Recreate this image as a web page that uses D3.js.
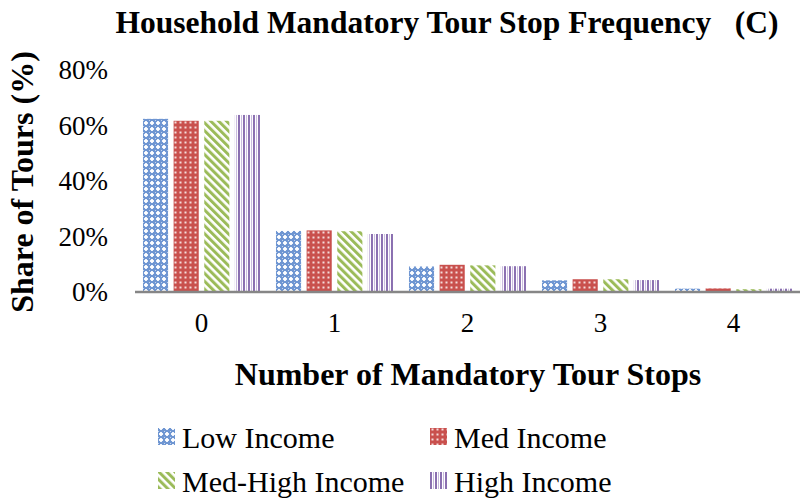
<!DOCTYPE html>
<html>
<head>
<meta charset="utf-8">
<script src="https://cdn.jsdelivr.net/npm/d3@7"></script>
<style>
  html, body { margin: 0; padding: 0; background: #fff; }
  svg { display: block; }
</style>
</head>
<body>
<svg id="chart" width="803" height="502"></svg>
<script>
// Number of mandatory tour stops
const categories = ["0", "1", "2", "3", "4"];
const seriesNames = ["Low Income", "Med Income", "Med-High Income", "High Income"];
// Share of tours (%) per income group
const lowIncome     = [62.4, 22.0, 9.2, 4.2, 1.2];
const medIncome     = [61.7, 22.2, 9.8, 4.6, 1.3];
const medHighIncome = [61.7, 21.9, 9.6, 4.6, 1.0];
const highIncome    = [63.8, 20.9, 9.3, 4.3, 1.2];
const yTicks = [0, 20, 40, 60, 80];

const seriesValues = [lowIncome, medIncome, medHighIncome, highIncome];
const patternIds = ["pLow", "pMed", "pMedHigh", "pHigh"];
const SERIF = "'Liberation Serif', 'Times New Roman', 'DejaVu Serif', serif";

const svg = d3.select("#chart");
const margin = { left: 135, right: 3, top: 70, bottom: 210 };
const W = 803, H = 502;

const x = d3.scaleBand().domain(categories).range([margin.left, W - margin.right]).paddingInner(0.12).paddingOuter(0.06);
const xs = d3.scaleBand().domain(d3.range(seriesNames.length)).range([0, x.bandwidth()]).paddingInner(0.18);
const y = d3.scaleLinear().domain([0, 80]).range([H - margin.bottom, margin.top]);

// Fill patterns
const defs = svg.append("defs");
// Low: blue lattice with white crosses
const p0 = defs.append("pattern").attr("id", "pLow").attr("patternUnits", "userSpaceOnUse").attr("width", 6).attr("height", 6);
p0.append("rect").attr("width", 6).attr("height", 6).attr("fill", "#6f96d2");
p0.append("rect").attr("x", 2).attr("y", 1).attr("width", 2).attr("height", 4).attr("fill", "#fff").attr("opacity", 0.9);
p0.append("rect").attr("x", 1).attr("y", 2).attr("width", 4).attr("height", 2).attr("fill", "#fff").attr("opacity", 0.9);
p0.append("rect").attr("x", 0).attr("y", 0).attr("width", 1).attr("height", 1).attr("fill", "#fff").attr("opacity", 0.6);
// Med: red with white dots
const p1 = defs.append("pattern").attr("id", "pMed").attr("patternUnits", "userSpaceOnUse").attr("width", 5).attr("height", 5);
p1.append("rect").attr("width", 5).attr("height", 5).attr("fill", "#c9504d");
p1.append("rect").attr("x", 1.5).attr("y", 1.5).attr("width", 2).attr("height", 2).attr("fill", "#fff").attr("opacity", 0.8);
// Med-High: green wide downward diagonal
const p2 = defs.append("pattern").attr("id", "pMedHigh").attr("patternUnits", "userSpaceOnUse").attr("width", 5.6).attr("height", 5.6).attr("patternTransform", "rotate(-45)");
p2.append("rect").attr("width", 5.6).attr("height", 5.6).attr("fill", "#fff");
p2.append("rect").attr("width", 3).attr("height", 5.6).attr("fill", "#9bbb59");
// High: purple vertical lines
const p3 = defs.append("pattern").attr("id", "pHigh").attr("patternUnits", "userSpaceOnUse").attr("width", 5).attr("height", 5);
p3.append("rect").attr("width", 5).attr("height", 5).attr("fill", "#fff");
p3.append("rect").attr("x", 0).attr("width", 2).attr("height", 5).attr("fill", "#8a6fb0");
p3.append("rect").attr("x", 3).attr("width", 1).attr("height", 5).attr("fill", "#c9bbdd");

// Bars
const groups = svg.append("g").selectAll("g").data(categories).join("g")
  .attr("transform", d => `translate(${x(d)},0)`);
groups.selectAll("rect").data((d, i) => seriesValues.map((s, k) => ({ k, v: s[i] }))).join("rect")
  .attr("x", d => xs(d.k))
  .attr("width", xs.bandwidth())
  .attr("y", d => y(d.v))
  .attr("height", d => y(0) - y(d.v))
  .attr("fill", d => `url(#${patternIds[d.k]})`);

// Baseline
svg.append("line")
  .attr("x1", margin.left).attr("x2", W - margin.right)
  .attr("y1", y(0)).attr("y2", y(0))
  .attr("stroke", "#868686").attr("stroke-width", 2.5);

// Y axis labels
const yAxis = d3.axisLeft(y).tickValues(yTicks).tickFormat(d => d + "%").tickSize(0).tickPadding(0);
const gy = svg.append("g").attr("transform", `translate(108,0)`).call(yAxis)
  .attr("font-family", SERIF).attr("font-size", 27);
gy.select(".domain").remove();
gy.selectAll("text").attr("fill", "#000");

// X axis labels
const xAxis = d3.axisBottom(x).tickSize(0).tickPadding(0);
const gx = svg.append("g").attr("transform", `translate(0,${y(0) + 31})`).call(xAxis)
  .attr("font-family", SERIF).attr("font-size", 27);
gx.select(".domain").remove();
gx.selectAll("text").attr("fill", "#000").attr("dy", "0.32em");

// Titles
svg.append("text").attr("x", 447).attr("y", 33).attr("text-anchor", "middle")
  .attr("font-family", SERIF).attr("font-size", 31.5).attr("font-weight", "bold")
  .attr("xml:space", "preserve")
  .text("Household Mandatory Tour Stop Frequency   (C)");
svg.append("text").attr("x", 468).attr("y", 385).attr("text-anchor", "middle")
  .attr("font-family", SERIF).attr("font-size", 32).attr("font-weight", "bold")
  .text("Number of Mandatory Tour Stops");
svg.append("text").attr("transform", "translate(33,182) rotate(-90)").attr("text-anchor", "middle")
  .attr("font-family", SERIF).attr("font-size", 32).attr("font-weight", "bold")
  .text("Share of Tours (%)");

// Legend
const legendPos = [[158, 437], [430, 437], [158, 481], [430, 481]];
const lg = svg.append("g").selectAll("g").data(seriesNames).join("g")
  .attr("transform", (d, i) => `translate(${legendPos[i][0]},${legendPos[i][1]})`);
lg.append("rect").attr("x", 0).attr("y", -9).attr("width", 17).attr("height", 17)
  .attr("fill", (d, i) => `url(#${patternIds[i]})`);
lg.append("text").attr("x", 24).attr("y", 0).attr("dy", "0.35em")
  .attr("font-family", SERIF).attr("font-size", 30).attr("fill", "#000").text(d => d);
</script>
</body>
</html>
